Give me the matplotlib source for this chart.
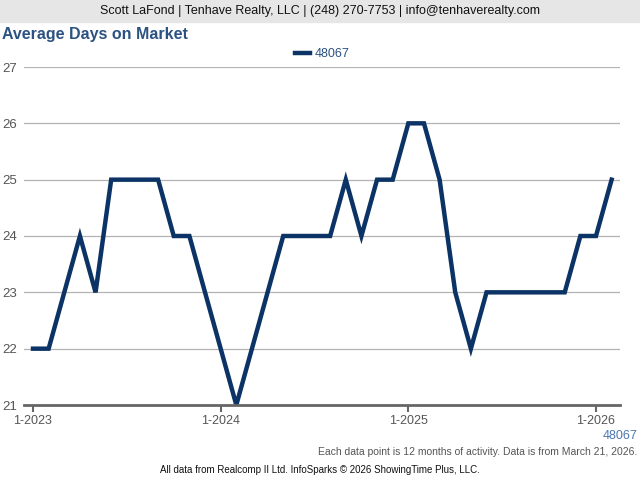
import matplotlib
matplotlib.use("Agg")
import matplotlib.pyplot as plt
from matplotlib.patches import Rectangle

months = ["1-2023","2-2023","3-2023","4-2023","5-2023","6-2023","7-2023","8-2023","9-2023","10-2023","11-2023","12-2023",
          "1-2024","2-2024","3-2024","4-2024","5-2024","6-2024","7-2024","8-2024","9-2024","10-2024","11-2024","12-2024",
          "1-2025","2-2025","3-2025","4-2025","5-2025","6-2025","7-2025","8-2025","9-2025","10-2025","11-2025","12-2025",
          "1-2026","2-2026"]
values = [22,22,23,24,23,25,25,25,25,24,24,23,
          22,21,22,23,24,24,24,24,25,24,25,25,
          26,26,25,23,22,23,23,23,23,23,23,24,
          24,25]
series_name = "48067"
tick_labels = ["1-2023","1-2024","1-2025","1-2026"]
yticks = [21,22,23,24,25,26,27]

W, H = 640, 480
fig = plt.figure(figsize=(6.4, 4.8), dpi=100)
plt.rcParams['font.family'] = ['Liberation Sans', 'DejaVu Sans']

# header band
fig.patches.append(Rectangle((0, 1-22/H), 1, 22/H, transform=fig.transFigure, color="#e6e6e6", zorder=0))
fig.text(320/W, 1-11/H, "Scott LaFond | Tenhave Realty, LLC | (248) 270-7753 | info@tenhaverealty.com",
         ha="center", va="center", fontsize=9, color="#111111")
fig.text(2/W, 1-35/H, "Average Days on Market", ha="left", va="center", fontsize=11.5,
         fontweight="bold", color="#2c5282")

left, right = 24, 620
top, bottom = 67, 405
ax = fig.add_axes([left/W, 1-bottom/H, (right-left)/W, (bottom-top)/H])
x = list(range(len(values)))
per = (596-33)/36
x0 = -(33-left)/per
x1 = x0 + (right-left)/per
ax.set_xlim(x0, x1)
ax.set_ylim(21, 27)

ax.plot(x, values, color="#0b3365", lw=3.2, solid_joinstyle="miter", zorder=2, label=series_name)

for y in yticks[1:]:
    ax.axhline(y, color="#b3b3b3", lw=0.9, zorder=1)
for s in ["top", "right", "left"]:
    ax.spines[s].set_visible(False)
ax.spines["bottom"].set_color("#666666")
ax.spines["bottom"].set_linewidth(2)
ax.spines["bottom"].set_zorder(3)
ax.set_yticks(yticks)
ax.set_yticklabels([str(v) for v in yticks])
ax.tick_params(axis="y", length=0, labelsize=9.5, colors="#555555", pad=0)
for lab in ax.get_yticklabels():
    lab.set_horizontalalignment("left")
    lab.set_x(-(left-2)/(right-left))
ax.set_xticks([months.index(t) for t in tick_labels])
ax.set_xticklabels(tick_labels)
ax.tick_params(axis="x", length=5, width=1.5, color="#666666", labelsize=9, labelcolor="#555555", pad=2)

leg = ax.legend(loc="center", bbox_to_anchor=(0.5, (54-top)/(bottom-top)*-1+1), frameon=False, fontsize=9,
                handlelength=1.2, handletextpad=0.4, borderaxespad=0)
for t in leg.get_texts():
    t.set_color("#2c5282")

fig.text(638/W, 1-436/H, "48067", ha="right", va="center", fontsize=9, color="#4a78b0")
fig.text(637/W, 1-452/H, "Each data point is 12 months of activity. Data is from March 21, 2026.",
         ha="right", va="center", fontsize=7.5, color="#555555")
fig.text(320/W, 1-470/H, "All data from Realcomp II Ltd. InfoSparks \u00a9 2026 ShowingTime Plus, LLC.",
         ha="center", va="center", fontsize=7, color="#111111")

fig.savefig("out.png", dpi=100)
